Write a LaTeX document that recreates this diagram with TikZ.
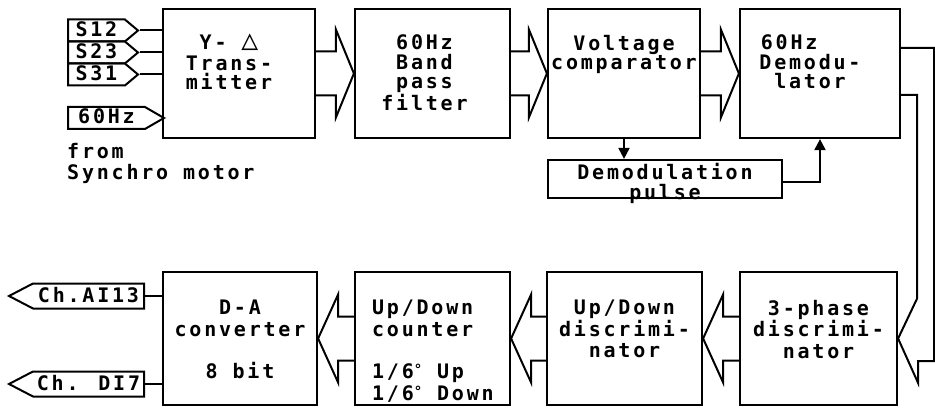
\documentclass[tikz,border=0pt]{standalone}
\usepackage{fontspec}
\newfontfamily\plotfont{DejaVu Sans Mono}[LetterSpace=14,BoldFont={DejaVu Sans Mono Bold}]
\usetikzlibrary{arrows.meta,positioning,calc,shapes.symbols}
\newcommand\dg{\raisebox{4pt}{\fontsize{14}{14}\selectfont°}}
\newcommand\fatright[2]{\draw[fat] ($(#1.east)+(0,-22)$) -- ($(#2.west)+(-18,-22)$) -- ++(0,-22) -- (#2.west) -- ++(-18,44) -- ++(0,-22) -- ($(#1.east)+(0,22)$);}
\newcommand\fatleft[2]{\draw[fat] ($(#1.west)+(0,-22)$) -- ($(#2.east)+(20,-22)$) -- ++(0,-22) -- (#2.east) -- ++(20,44) -- ++(0,-22) -- ($(#1.west)+(0,22)$);}

\begin{document}
\begin{tikzpicture}[x=1pt,y=-1pt,
  blk/.style={draw,line width=2.2pt,inner sep=0pt},
  lbl/.style={font=\plotfont\bfseries\fontsize{20}{19.5}\selectfont,align=center,inner sep=0pt},
  lbl2/.style={lbl,font=\plotfont\bfseries\fontsize{20}{21.5}\selectfont},
  fat/.style={line width=2pt,line join=miter},
  wire/.style={line width=2pt},
  inpin/.style={draw,line width=2pt,shape=signal,signal to=east,signal pointer angle=80,
    anchor=west,inner sep=1pt,minimum height=22pt,text height=14pt,text depth=2pt,
    font=\plotfont\bfseries\fontsize{20}{20}\selectfont},
  outpin/.style={inpin,signal to=west,signal pointer angle=55,anchor=east,minimum height=25pt}]
\useasboundingbox (0,0) rectangle (935,409);

% upper row
\node[blk,minimum width=152pt,minimum height=129pt] (tx) at (239,73.5) {};
\node[blk,minimum width=155pt,minimum height=129pt] (bpf) at (432.5,73.5) {};
\node[blk,minimum width=152pt,minimum height=129pt] (vc) at (624,73.5) {};
\node[blk,minimum width=160pt,minimum height=129pt] (dem) at (820,73.5) {};
\node[blk,minimum width=234pt,minimum height=38pt] (dp) at (665,179) {};

\node[lbl,below=26pt of tx.north,xshift=-10pt] {Y- \scalebox{1.4}{△}\\[1pt]Trans-\\mitter};
\node[lbl,below=27pt of bpf.north,xshift=-8pt] {60Hz\\Band\\pass\\filter};
\node[lbl,below=27pt of vc.north] {Voltage\\comparator};
\node[lbl,below=27pt of dem.north,xshift=-10pt] {60Hz\phantom{xxx}\\Demodu-\\lator};
\node[lbl,below=4pt of dp.north,font=\plotfont\bfseries\fontsize{20}{20}\selectfont] {Demodulation\\pulse};

% lower row
\node[blk,minimum width=154pt,minimum height=133pt] (da) at (240,338.5) {};
\node[blk,minimum width=155pt,minimum height=133pt] (udc) at (432.5,338.5) {};
\node[blk,minimum width=155pt,minimum height=133pt] (udd) at (624.5,338.5) {};
\node[blk,minimum width=157pt,minimum height=133pt] (tpd) at (818.5,338.5) {};

\node[lbl2,below=29pt of da.north] {D-A\\converter\\[21pt]8 bit};
\node[lbl2,align=left,below right=29pt and 18pt of udc.north west] {Up/Down\\counter\\[21pt]1/6\dg{} Up\\1/6\dg{} Down};
\node[lbl2,below=29pt of udd.north] {Up/Down\\discrimi-\\nator};
\node[lbl2,below=29pt of tpd.north] {3-phase\\discrimi-\\nator};

% inputs from the synchro
\node[inpin,minimum width=70pt] (s12) at (67,30.5) {S12};
\node[inpin,minimum width=70pt] (s23) at (67,52.5) {S23};
\node[inpin,minimum width=70pt] (s31) at (67,74.5) {S31};
\node[inpin,minimum width=96pt,signal pointer angle=60] (hz) at (67,118) {60Hz};
\draw[wire] (s12.east) -- (s12.east -| tx.west);
\draw[wire] (s23.east) -- (s23.east -| tx.west);
\draw[wire] (s31.east) -- (s31.east -| tx.west);
\node[lbl2,align=left,anchor=north west] (src) at (67,143) {from\\Synchro motor};

% outputs
\node[outpin,minimum width=135pt] (ai) at (145,296) {Ch.AI13};
\node[outpin,minimum width=135pt] (di) at (145,384) {Ch. DI7};
\draw[wire] (ai.east) -- (ai.east -| da.west);
\draw[wire] (di.east) -- (di.east -| da.west);

% fat arrows
\fatright{tx}{bpf}
\fatright{bpf}{vc}
\fatright{vc}{dem}
\draw[fat] ($(dem.east)+(0,-25.5)$) -- ++(33,0) -- ($(tpd.east)+(36,22.5)$) -- ++(-16,0) -- ++(0,22)
  -- (tpd.east) -- ++(19,-40) -- ($(dem.east)+(16,21.5)$) -- ++(-16,0);
\fatleft{tpd}{udd}
\fatleft{udd}{udc}
\fatleft{udc}{da}

% demodulation pulse
\draw[wire,-{Triangle[width=11pt,length=11pt]}] (vc.south) -- (vc.south |- dp.north);
\draw[wire,-{Triangle[width=11pt,length=11pt]}] ([yshift=-3pt]dp.east) -| (dem.south);
\end{tikzpicture}
\end{document}
